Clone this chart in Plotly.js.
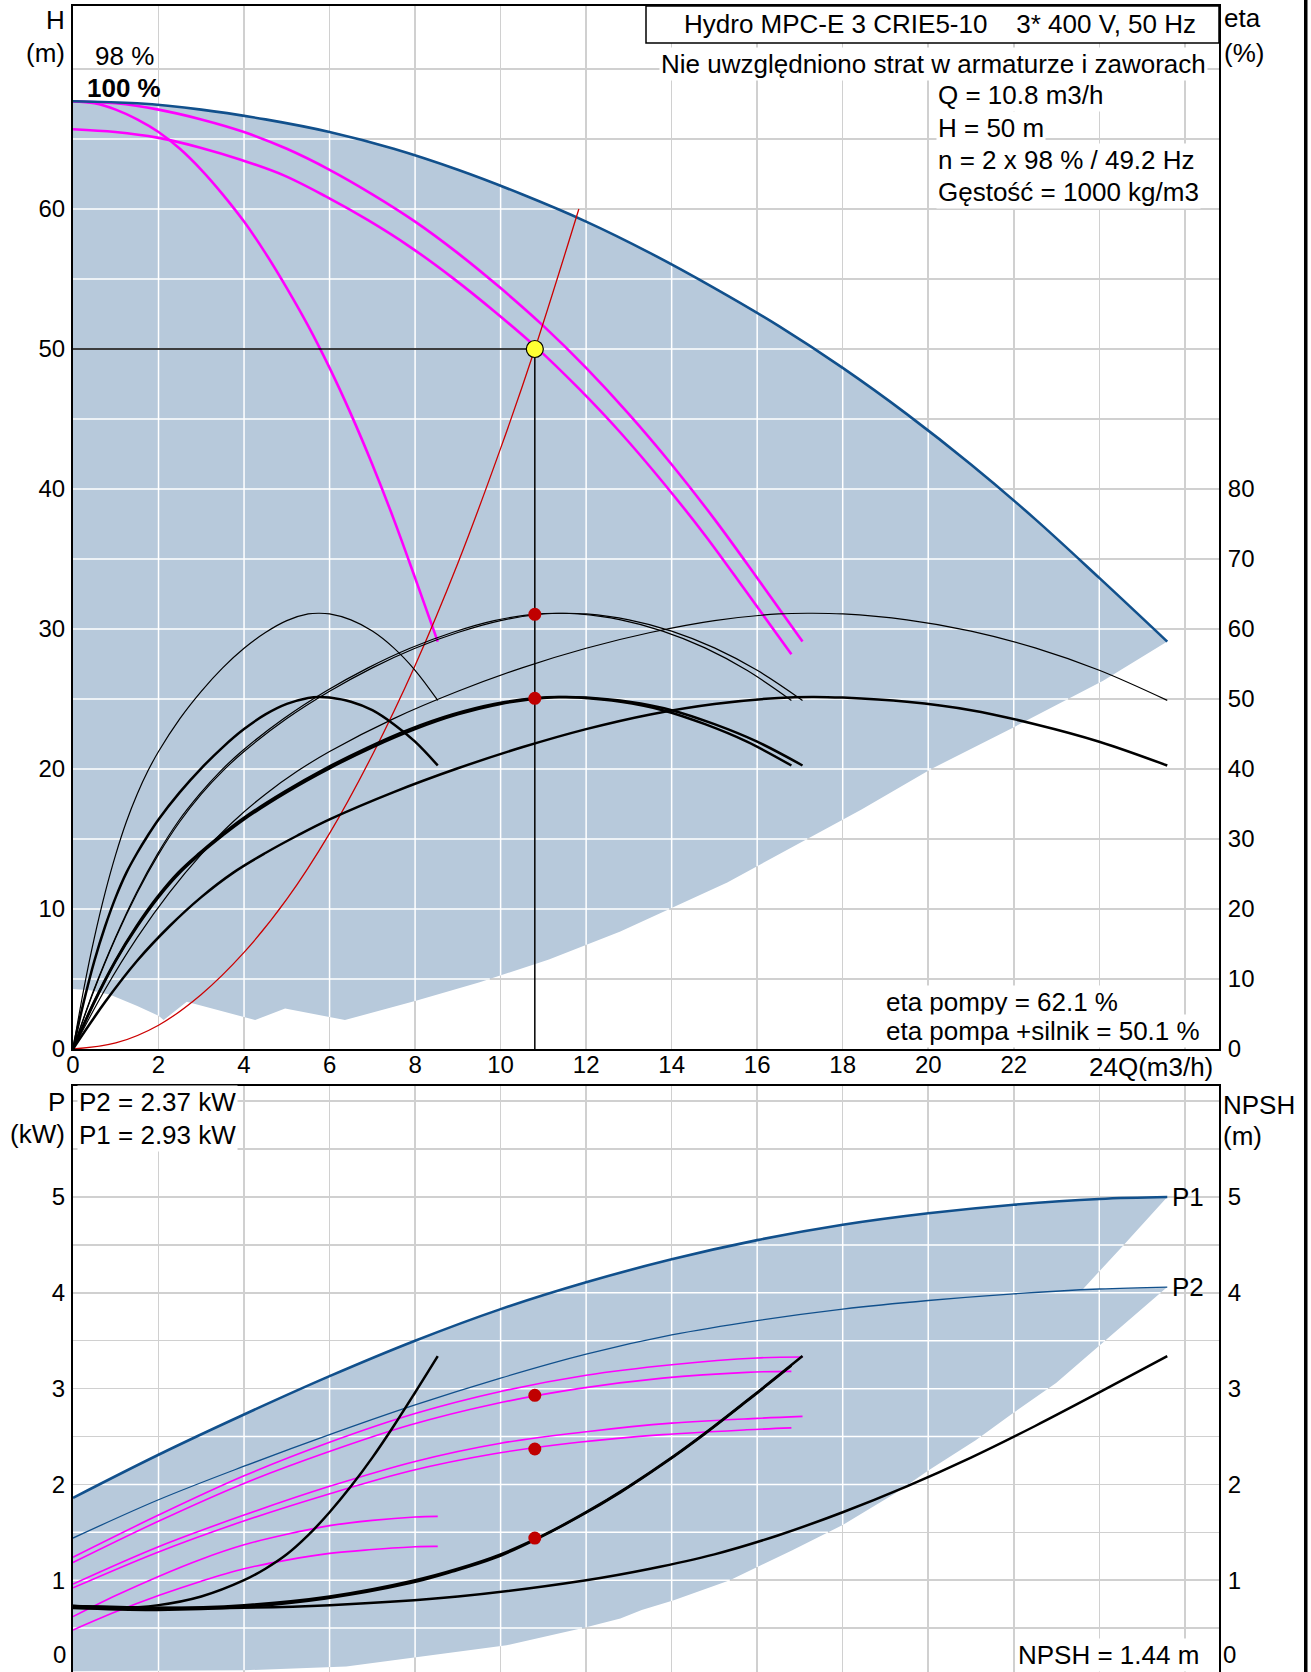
<!DOCTYPE html>
<html><head><meta charset="utf-8">
<script src="https://cdn.plot.ly/plotly-3.0.1.min.js"></script>
<style>html,body{margin:0;padding:0;background:#fff}#chart{width:1311px;height:1672px}</style>
</head><body><div id="chart"></div>
<script>
// ===================== DATA =====================
// --- Top plot: H-Q curves (m3/h, m) ---
const hQ_1p   = [0,0.5,1,1.5,2,2.5,3,3.5,4,4.5,5,5.5,6,6.5,7,7.5,8,8.53];
const hH_1p   = [67.7,67.55,67.1,66.4,65.5,64.3,62.8,61.05,59.1,56.85,54.35,51.65,48.65,45.35,41.75,37.85,33.65,29.1];
const hQ_2p   = [0,1,2,3,4,5,6,7,8,9,10,11,12,13,14,15,16,17.06];
const hH_2p   = [67.7,67.55,67.1,66.4,65.5,64.3,62.8,61.05,59.1,56.85,54.35,51.65,48.65,45.35,41.75,37.85,33.65,29.1];
const hQ_2p98 = [0,0.99,1.97,2.96,3.94,4.93,5.91,6.9,7.88,8.87,9.85,10.84,11.82,12.81,13.79,14.78,15.76,16.8];
const hH_2p98 = [65.7,65.5,65.1,64.4,63.5,62.4,60.9,59.2,57.3,55.1,52.7,50.1,47.2,44.0,40.5,36.7,32.6,28.2];
const hQ_3p   = [0,1.5,3,4.5,6,7.5,9,10.5,12,13.5,15,16.5,18,19.5,21,22.5,24,25.59];
const hH_3p   = [67.7,67.55,67.1,66.4,65.5,64.3,62.8,61.05,59.1,56.85,54.35,51.65,48.65,45.35,41.75,37.85,33.65,29.1];
// lower edge of the shaded operating area (top plot), right to left
const areaTopLowQ = [25.59,24.09,22.05,20.07,18.44,15.3,12.8,11.13,9.51,8.02,6.36,4.96,4.26,2.66,2.12,2.0,1.49,0.87,0.4,0];
const areaTopLowH = [29.1,26.3,23.06,20.0,17.1,11.9,8.4,6.4,4.76,3.45,2.07,2.9,2.07,3.38,2.07,2.38,3.09,3.88,4.2,4.29];
// system curve
const sysQ = [0,1,2,3,4,5,6,7,8,9,10,10.8,11.83];
const sysH = [0,0.43,1.7,3.9,6.9,10.7,15.4,21.0,27.4,34.7,42.9,50.0,60.0];
// efficiency curves (%)
const etaQ_1p   = [0,0.25,0.5,0.75,1,1.25,1.5,1.75,2,2.5,3,3.5,4,4.5,5,5.5,5.76,6,6.5,7,7.5,8,8.53];
const etaQ_2p   = [0,0.5,1,1.5,2,2.5,3,3.5,4,5,6,7,8,9,10,11,11.52,12,13,14,15,16,17.06];
const etaQ_2p98 = [0,0.49,0.99,1.48,1.97,2.46,2.96,3.45,3.94,4.93,5.91,6.9,7.88,8.87,9.85,10.84,11.35,11.82,12.81,13.79,14.78,15.76,16.8];
const etaQ_3p   = [0,0.75,1.5,2.25,3,3.75,4.5,5.25,6,7.5,9,10.5,12,13.5,15,16.5,17.28,18,19.5,21,22.5,24,25.59];
const etaPump   = [0,8.5,15.9,22.3,27.8,32.5,36.4,39.7,42.5,47.2,51.1,54.45,57.25,59.5,61.2,62.15,62.25,62.15,61.3,59.7,57.3,54.1,49.8];
const etaTotal  = [0,6.7,12.6,17.5,21.7,25.2,28.0,30.5,32.8,36.7,40.1,43.1,45.7,47.8,49.3,50.15,50.3,50.2,49.6,48.4,46.4,43.9,40.5];
// --- Bottom plot: power (kW) and NPSH (m) ---
const pQ_max  = [0,2,4,6,8,10,12,14,16,18,20,22,24,25.59];
const p1_max  = [1.86,2.31,2.73,3.13,3.50,3.83,4.11,4.35,4.55,4.71,4.83,4.92,4.98,5.0];
const p2_max  = [1.44,1.84,2.19,2.52,2.83,3.11,3.36,3.56,3.71,3.83,3.92,3.99,4.04,4.06];
const pQ_2p   = [0,2,4,6,8,10,12,14,16,17.06];
const p1_2p   = [1.24,1.68,2.09,2.44,2.74,2.97,3.14,3.25,3.32,3.33];
const p2_2p   = [0.96,1.35,1.68,1.98,2.24,2.43,2.55,2.64,2.69,2.71];
const pQ_2p98 = [0,1.97,3.94,5.91,7.88,9.85,11.82,13.79,15.76,16.8];
const p1_2p98 = [1.185,1.61,2.0,2.33,2.62,2.84,3.0,3.11,3.17,3.18];
const p2_2p98 = [0.92,1.29,1.61,1.89,2.14,2.32,2.44,2.52,2.57,2.59];
const pQ_1p   = [0,1,2,3,4,5,6,7,8,8.53];
const p1_1p   = [0.62,0.84,1.04,1.22,1.37,1.48,1.57,1.625,1.66,1.667];
const p2_1p   = [0.48,0.67,0.84,0.99,1.12,1.21,1.28,1.32,1.35,1.353];
// right edges of the shaded power area
const areaBotEdgeAQ = [24.55,23.6];
const areaBotEdgeAP = [4.49,4.03];
const areaBotEdgeBQ = [24.16,22.99,21.97,21.11,20.02,19.24,18.01,16.81,15.36,14.05,13.3,12.8,12.0,10.14,6.39,4.0,0];
const areaBotEdgeBP = [3.51,3.06,2.74,2.46,2.15,1.91,1.58,1.31,1.0,0.79,0.69,0.60,0.51,0.32,0.10,0.06,0.05];
// NPSH curves
const npshQ_1p   = [0,1,2,3,4,4.5,5,5.5,6,6.5,7,7.5,8,8.53];
const npshQ_2p   = [0,2,4,6,8,9,10,11,12,13,14,15,16,17.06];
const npshQ_2p98 = [0,1.97,3.94,5.91,7.88,8.87,9.85,10.84,11.82,12.81,13.79,14.78,15.76,16.8];
const npshQ_3p   = [0,3,6,9,12,13.5,15,16.5,18,19.5,21,22.5,24,25.59];
const npshVal    = [0.73,0.71,0.74,0.83,1.0,1.12,1.27,1.47,1.71,1.98,2.28,2.61,2.96,3.34];
const npshVal98  = [0.71,0.69,0.72,0.81,0.97,1.09,1.23,1.43,1.66,1.92,2.21,2.53,2.87,3.24];
// duty point
const dutyQ = 10.8, dutyH = 50, dutyEtaPump = 62.1, dutyEtaTotal = 50.1;
const dutyP1 = 2.93, dutyP2 = 2.37, dutyNPSH = 1.44;
// tick labels
const qTicks = [0,2,4,6,8,10,12,14,16,18,20,22,24,26];
const qTickText = ['0','2','4','6','8','10','12','14','16','18','20','22','',''];
const hTicks = [0,5,10,15,20,25,30,35,40,45,50,55,60,65,70];
const hTickText = ['0','','10','','20','','30','','40','','50','','60','',''];
const etaTicks = [0,10,20,30,40,50,60,70,80];
const pTicks = [0.5,1,1.5,2,2.5,3,3.5,4,4.5,5,5.5,6];
const pTickText = ['','1','','2','','3','','4','','5','',''];
const npshTicks = [1,2,3,4,5];

// ===================== STYLE / LAYOUT =====================
const W = 1311, Hh = 1672, ML = 73, MR = 92, MT = 6, MB = 0;
const px = p => (p - ML) / (W - ML - MR);
const py = p => (Hh - MB - p) / (Hh - MT - MB);
const FONT = '"Liberation Sans", Arial, Helvetica, sans-serif';
const FILL = '#b7c9db', GRID = '#d0d0d0', BLUE = '#11508c', MAG = '#ff00ff', RED = '#cc0000';

function ln(x, y, color, width, xa, ya, shape) {
  return {type:'scatter', mode:'lines', x:x, y:y, xaxis:xa, yaxis:ya, hoverinfo:'skip',
          line:{color:color, width:width, shape:shape||'spline', smoothing:1}};
}
// white grid lines inside a filled polygon (scan-line clipping)
function innerGrid(polyX, polyY, xs, ys) {
  const X = [], Y = [], n = polyX.length;
  xs.forEach(c => {
    const hits = [];
    for (let i = 0; i < n; i++) {
      const j = (i + 1) % n, x1 = polyX[i], y1 = polyY[i], x2 = polyX[j], y2 = polyY[j];
      if ((x1 <= c && c < x2) || (x2 <= c && c < x1)) hits.push(y1 + (c - x1) * (y2 - y1) / (x2 - x1));
    }
    hits.sort((a, b) => a - b);
    for (let k = 0; k + 1 < hits.length; k += 2) { X.push(c, c, null); Y.push(hits[k], hits[k + 1], null); }
  });
  ys.forEach(c => {
    const hits = [];
    for (let i = 0; i < n; i++) {
      const j = (i + 1) % n, x1 = polyX[i], y1 = polyY[i], x2 = polyX[j], y2 = polyY[j];
      if ((y1 <= c && c < y2) || (y2 <= c && c < y1)) hits.push(x1 + (c - y1) * (x2 - x1) / (y2 - y1));
    }
    hits.sort((a, b) => a - b);
    for (let k = 0; k + 1 < hits.length; k += 2) { X.push(hits[k], hits[k + 1], null); Y.push(c, c, null); }
  });
  return {X, Y};
}

// polygons
const topPolyX = hQ_3p.concat(areaTopLowQ.slice(1));
const topPolyY = hH_3p.concat(areaTopLowH.slice(1));
const p2TailQ = [], p2TailP = [];
pQ_max.forEach((q, i) => { if (q > areaBotEdgeAQ[areaBotEdgeAQ.length - 1]) { p2TailQ.push(q); p2TailP.push(p2_max[i]); } });
const botPolyX = pQ_max.concat(areaBotEdgeAQ, p2TailQ, areaBotEdgeBQ);
const botPolyY = p1_max.concat(areaBotEdgeAP, p2TailP, areaBotEdgeBP);

const gTop = innerGrid(topPolyX, topPolyY, qTicks.slice(1), hTicks.slice(1));
const gBot = innerGrid(botPolyX, botPolyY, qTicks.slice(1), pTicks);

const traces = [];
// ---- top plot ----
traces.push({type:'scatter', mode:'lines', x:topPolyX, y:topPolyY, xaxis:'x', yaxis:'y', fill:'toself',
             fillcolor:FILL, line:{width:0, color:FILL}, hoverinfo:'skip'});
traces.push({type:'scatter', mode:'lines', x:gTop.X, y:gTop.Y, xaxis:'x', yaxis:'y',
             line:{color:'#ffffff', width:1.5}, hoverinfo:'skip', connectgaps:false});
traces.push(ln(hQ_1p, hH_1p, MAG, 2.6, 'x', 'y'));
traces.push(ln(hQ_2p, hH_2p, MAG, 2.6, 'x', 'y'));
traces.push(ln(hQ_2p98, hH_2p98, MAG, 2.6, 'x', 'y'));
traces.push(ln(hQ_3p, hH_3p, BLUE, 2.6, 'x', 'y'));
traces.push(ln(sysQ, sysH, RED, 1.3, 'x', 'y'));
traces.push(ln([0, dutyQ], [dutyH, dutyH], '#000', 1.5, 'x', 'y', 'linear'));
traces.push(ln([dutyQ, dutyQ], [dutyH, 0], '#000', 1.5, 'x', 'y', 'linear'));
traces.push({type:'scatter', mode:'markers', x:[dutyQ], y:[dutyH], xaxis:'x', yaxis:'y', hoverinfo:'skip',
             marker:{size:17, color:'#ffff33', line:{color:'#000', width:1.2}}});
// efficiency (right axis)
[etaQ_1p, etaQ_2p, etaQ_2p98, etaQ_3p].forEach(q => {
  traces.push(ln(q, etaPump, '#000', 1.2, 'x', 'y2'));
  traces.push(ln(q, etaTotal, '#000', 2.5, 'x', 'y2'));
});
traces.push({type:'scatter', mode:'markers', x:[dutyQ, dutyQ], y:[dutyEtaPump, dutyEtaTotal], xaxis:'x', yaxis:'y2',
             hoverinfo:'skip', marker:{size:13, color:'#c00000'}});
// ---- bottom plot ----
traces.push({type:'scatter', mode:'lines', x:botPolyX, y:botPolyY, xaxis:'x2', yaxis:'y3', fill:'toself',
             fillcolor:FILL, line:{width:0, color:FILL}, hoverinfo:'skip'});
traces.push({type:'scatter', mode:'lines', x:gBot.X, y:gBot.Y, xaxis:'x2', yaxis:'y3',
             line:{color:'#ffffff', width:1.5}, hoverinfo:'skip', connectgaps:false});
traces.push(ln(pQ_max, p1_max, BLUE, 2.6, 'x2', 'y3'));
traces.push(ln(pQ_max, p2_max, BLUE, 1.3, 'x2', 'y3'));
traces.push(ln(pQ_2p, p1_2p, MAG, 1.6, 'x2', 'y3'));
traces.push(ln(pQ_2p98, p1_2p98, MAG, 1.6, 'x2', 'y3'));
traces.push(ln(pQ_2p, p2_2p, MAG, 1.6, 'x2', 'y3'));
traces.push(ln(pQ_2p98, p2_2p98, MAG, 1.6, 'x2', 'y3'));
traces.push(ln(pQ_1p, p1_1p, MAG, 1.6, 'x2', 'y3'));
traces.push(ln(pQ_1p, p2_1p, MAG, 1.6, 'x2', 'y3'));
traces.push({type:'scatter', mode:'markers', x:[dutyQ, dutyQ], y:[dutyP1, dutyP2], xaxis:'x2', yaxis:'y3',
             hoverinfo:'skip', marker:{size:13, color:'#c00000'}});
traces.push(ln(npshQ_1p, npshVal, '#000', 2.5, 'x2', 'y4'));
traces.push(ln(npshQ_2p, npshVal, '#000', 2.5, 'x2', 'y4'));
traces.push(ln(npshQ_2p98, npshVal98, '#000', 2.5, 'x2', 'y4'));
traces.push(ln(npshQ_3p, npshVal, '#000', 2.5, 'x2', 'y4'));
traces.push({type:'scatter', mode:'markers', x:[dutyQ], y:[dutyNPSH], xaxis:'x2', yaxis:'y4',
             hoverinfo:'skip', marker:{size:13, color:'#c00000'}});

const axBase = {showgrid:true, gridcolor:GRID, gridwidth:1.5, zeroline:false, showline:true,
                linecolor:'#000', linewidth:2, ticks:'', tickmode:'array', tickfont:{size:24, family:FONT, color:'#000'}};
const topBottom = 1049, botTop = 1086;
const layout = {
  width:W, height:Hh, margin:{l:ML, r:MR, t:MT, b:MB, pad:0},
  paper_bgcolor:'#ffffff', plot_bgcolor:'#ffffff', showlegend:false,
  font:{family:FONT, size:24, color:'#000'},
  xaxis: Object.assign({}, axBase, {domain:[0,1], anchor:'y', range:[0,26.8], tickvals:qTicks, ticktext:qTickText,
          mirror:true, ticklabelstandoff:-7}),
  yaxis: Object.assign({}, axBase, {domain:[py(topBottom),1], anchor:'x', range:[0,74.5], tickvals:hTicks, ticktext:hTickText,
          ticklabelstandoff:1}),
  yaxis2: Object.assign({}, axBase, {overlaying:'y', anchor:'x', side:'right', range:[0,149], tickvals:etaTicks,
          showgrid:false, ticklabelstandoff:2}),
  xaxis2: Object.assign({}, axBase, {domain:[0,1], anchor:'y3', side:'top', range:[0,26.8], tickvals:qTicks,
          showticklabels:false}),
  yaxis3: Object.assign({}, axBase, {domain:[0, py(botTop)], anchor:'x2', range:[0.042,6.159], tickvals:pTicks,
          ticktext:pTickText, ticklabelstandoff:1}),
  yaxis4: Object.assign({}, axBase, {overlaying:'y3', anchor:'x2', side:'right', range:[0.042,6.159], tickvals:npshTicks,
          showgrid:false, ticklabelstandoff:2}),
  shapes:[
    {type:'rect', xref:'paper', yref:'paper', x0:px(646), x1:px(1219), y0:py(43), y1:py(6),
     line:{color:'#000', width:1.5}, fillcolor:'#ffffff', layer:'above'},
    {type:'rect', xref:'paper', yref:'paper', x0:px(1304), x1:px(1307.5), y0:py(1672), y1:py(0),
     line:{width:0}, fillcolor:'#000', layer:'above'}
  ],
  annotations:[]
};
function ann(text, x, y, xanchor, opts) {
  return Object.assign({text:text, xref:'paper', yref:'paper', x:px(x), y:py(y), xanchor:xanchor, yanchor:'middle',
    showarrow:false, font:{family:FONT, size:26, color:'#000'}, borderpad:1}, opts || {});
}
const WB = {bgcolor:'#ffffff'};
layout.annotations.push(
  ann('Hydro MPC-E 3 CRIE5-10\u00a0\u00a0\u00a0\u00a03* 400 V, 50 Hz', 1198, 24, 'right'),
  ann('Nie uwzględniono strat w armaturze i zaworach', 1208, 64, 'right', WB),
  ann('Q = 10.8 m3/h', 936, 95, 'left', WB),
  ann('H = 50 m', 936, 128, 'left', WB),
  ann('n = 2 x 98 % / 49.2 Hz', 936, 160, 'left', WB),
  ann('Gęstość = 1000 kg/m3', 936, 192, 'left', WB),
  ann('98 %', 124, 56, 'center'),
  ann('<b>100 %</b>', 124, 88, 'center'),
  ann('H', 67, 20, 'right'),
  ann('(m)', 67, 53, 'right'),
  ann('eta', 1222, 18, 'left'),
  ann('(%)', 1222, 53, 'left'),
  ann('24Q(m3/h)', 1215, 1067, 'right'),
  ann('eta pompy = 62.1 %', 884, 1002, 'left', WB),
  ann('eta pompa +silnik = 50.1 %', 884, 1031, 'left', WB),
  ann('P', 67, 1102, 'right'),
  ann('(kW)', 67, 1134, 'right'),
  ann('P2 = 2.37 kW', 77, 1102, 'left', WB),
  ann('P1 = 2.93 kW', 77, 1135, 'left', WB),
  ann('NPSH', 1221, 1105, 'left'),
  ann('(m)', 1221, 1136, 'left'),
  ann('NPSH = 1.44 m', 1201, 1655, 'right', WB),
  ann('0', 67, 1654, 'right', {font:{family:FONT, size:24, color:'#000'}, borderpad:0}),
  ann('0', 1222, 1654, 'left', {font:{family:FONT, size:24, color:'#000'}, borderpad:0}),
  {text:'P1', xref:'x2', yref:'y3', x:pQ_max[pQ_max.length-1], y:p1_max[p1_max.length-1], xanchor:'left', yanchor:'middle',
   xshift:3, showarrow:false, font:{family:FONT, size:26, color:'#000'}},
  {text:'P2', xref:'x2', yref:'y3', x:pQ_max[pQ_max.length-1], y:p2_max[p2_max.length-1], xanchor:'left', yanchor:'middle',
   xshift:3, showarrow:false, font:{family:FONT, size:26, color:'#000'}}
);

Plotly.newPlot('chart', traces, layout, {staticPlot:true, displayModeBar:false});
</script>
</body></html>
